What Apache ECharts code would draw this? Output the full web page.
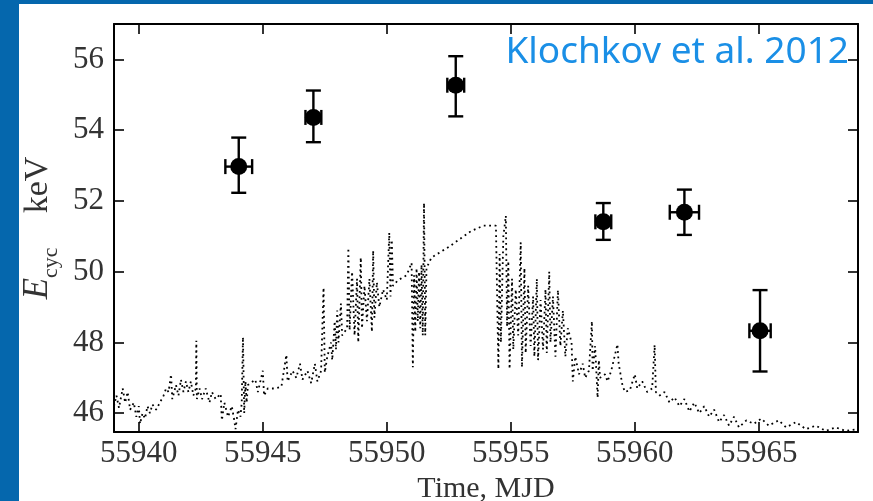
<!DOCTYPE html>
<html>
<head>
<meta charset="utf-8">
<script src="https://cdn.jsdelivr.net/npm/echarts@6/dist/echarts.min.js"></script>
<style>
  html, body { margin: 0; padding: 0; background: #ffffff; }
  #chart { width: 873px; height: 501px; }
</style>
</head>
<body>
<div id="chart"></div>
<script>
// Cyclotron line energy measurements (MJD, E_cyc, asymmetric y-errors, x half-width)
const obsMjd    = [55944.03, 55947.04, 55952.78, 55958.73, 55962.00, 55965.05];
const obsEcyc   = [52.97, 54.36, 55.27, 51.41, 51.68, 48.33];
const obsErrUp  = [0.82, 0.76, 0.82, 0.53, 0.64, 1.15];
const obsErrLo  = [0.74, 0.70, 0.88, 0.51, 0.64, 1.15];
const obsMjdErr = [0.54, 0.32, 0.34, 0.32, 0.59, 0.43];

// Scaled source flux light curve (dotted trace)
const fluxMjd = [
  55939.0, 55939.1, 55939.2, 55939.35, 55939.45, 55939.55, 55939.65, 55939.8, 55939.9, 55940.0,
  55940.05, 55940.15, 55940.25, 55940.35, 55940.45, 55940.55, 55940.7, 55940.85,
  55941.0, 55941.1, 55941.2, 55941.3, 55941.35, 55941.5, 55941.6, 55941.7, 55941.8, 55941.9,
  55942.0, 55942.1, 55942.2, 55942.3, 55942.32, 55942.34,
  55942.45, 55942.55, 55942.7, 55942.85, 55942.95, 55943.1, 55943.3, 55943.35, 55943.45, 55943.6,
  55943.75, 55943.85, 55943.9, 55944.0, 55944.1, 55944.15,
  55944.2, 55944.25, 55944.3, 55944.35, 55944.4,
  55944.7, 55944.8, 55945.0, 55945.05, 55945.2, 55945.5, 55945.75,
  55945.95, 55946.0, 55946.2, 55946.35, 55946.5, 55946.6, 55946.8, 55946.95, 55947.1, 55947.2,
  55947.35, 55947.45, 55947.5, 55947.6, 55947.75, 55947.8, 55947.9, 55947.95, 55948.0, 55948.05,
  55948.15, 55948.2,
  55948.4, 55948.45, 55948.5, 55948.6, 55948.7, 55948.8, 55948.85, 55948.95, 55949.0, 55949.1,
  55949.2, 55949.3, 55949.4, 55949.45, 55949.5, 55949.6, 55949.7, 55949.85, 55950.0, 55950.1,
  55950.15, 55950.2, 55950.25, 55950.45, 55950.8,
  55951.0, 55951.05, 55951.1, 55951.15, 55951.2, 55951.25, 55951.3, 55951.35, 55951.4, 55951.45,
  55951.5, 55951.55, 55951.6,
  55951.8, 55952.5, 55953.0, 55953.4, 55953.9, 55954.4,
  55954.5, 55954.55, 55954.6, 55954.7, 55954.8, 55954.85, 55954.9, 55954.95, 55955.05, 55955.1,
  55955.2, 55955.3, 55955.4, 55955.45, 55955.55, 55955.6, 55955.7, 55955.8, 55955.9, 55955.95,
  55956.05, 55956.1, 55956.2, 55956.3, 55956.4, 55956.45, 55956.55, 55956.6, 55956.7, 55956.8,
  55956.9, 55957.0, 55957.1, 55957.2, 55957.3, 55957.45, 55957.5, 55957.6, 55957.75, 55957.9,
  55958.0, 55958.15, 55958.27, 55958.3, 55958.4, 55958.5, 55958.55, 55958.6, 55958.8, 55958.9,
  55959.05, 55959.3, 55959.35, 55959.5, 55959.6, 55959.8, 55960.0, 55960.1, 55960.3, 55960.5,
  55960.7, 55960.8, 55960.85, 55961.0, 55961.2, 55961.4, 55961.6, 55961.8, 55962.0, 55962.2,
  55962.4, 55962.6, 55962.8, 55963.0, 55963.2, 55963.4, 55963.6, 55963.8, 55964.0, 55964.2,
  55964.5, 55964.8, 55965.1, 55965.4, 55965.8, 55966.1, 55966.5, 55966.9, 55967.3, 55967.7,
  55968.1, 55968.5, 55969.0
];
const fluxLevel = [
  46.2, 46.5, 46.15, 46.7, 46.3, 46.6, 46.1, 46.3, 45.9, 46.2,
  45.7, 46.0, 45.85, 46.2, 46.0, 46.25, 46.1, 46.3,
  46.5, 46.7, 46.6, 47.1, 46.4, 46.8, 46.5, 46.95, 46.6, 46.9,
  46.6, 46.9, 46.5, 46.7, 48.05, 46.4,
  46.7, 46.4, 46.7, 46.3, 46.6, 46.4, 46.55, 45.8, 46.3, 45.9,
  46.2, 45.8, 45.55, 46.1, 45.9, 46.3,
  48.15, 46.0, 46.9, 46.3, 46.8,
  46.95, 46.6, 47.2, 46.5, 46.7, 46.7, 46.75,
  47.65, 46.9, 47.2, 47.0, 47.4, 46.95, 47.2, 46.85, 47.4, 46.9,
  47.2, 49.55, 47.15, 47.6, 48.0, 47.5, 48.6, 47.8, 48.9, 48.0,
  49.1, 48.2,
  48.4, 50.67, 48.35, 50.0, 48.2, 49.8, 48.0, 50.4, 48.4, 49.6,
  48.6, 49.8, 48.3, 50.6, 48.7, 49.7, 49.0, 49.5, 49.2, 51.1,
  49.3, 50.9, 49.6, 49.76, 49.9,
  50.25, 47.3, 49.9, 48.3, 50.1, 48.6, 50.0, 48.4, 50.2, 48.2,
  51.94, 48.2, 50.1,
  50.4, 50.7, 50.95, 51.15, 51.3, 51.3,
  47.25, 50.5, 48.0, 51.0, 51.58, 48.45, 50.3, 47.25, 49.8, 47.8,
  49.5, 48.2, 50.83, 47.3, 50.1, 47.7, 49.6, 47.9, 49.3, 47.6,
  49.8, 47.5, 49.2, 47.8, 49.5, 47.7, 50.0, 48.0, 49.3, 47.6,
  49.48, 47.9, 48.9, 47.6, 48.4, 48.0, 46.9, 47.6, 47.1, 47.4,
  47.0, 47.2, 48.6, 47.2, 47.9, 46.44, 47.5, 47.0, 47.1, 46.9,
  47.2, 47.95, 47.4, 46.8, 46.6, 46.65, 47.1, 46.7, 46.9, 46.6,
  46.7, 47.93, 46.6, 46.5, 46.6, 46.3, 46.45, 46.2, 46.4, 46.05,
  46.3, 46.0, 46.2, 45.9, 46.1, 45.75, 45.95, 45.65, 45.9, 45.6,
  45.8, 45.7, 45.85, 45.65, 45.8, 45.6, 45.75, 45.55, 45.65, 45.5,
  45.6, 45.5, 45.55
];

// Axis tick positions
const xTicks = [55940, 55945, 55950, 55955, 55960, 55965];
const yTicks = [46, 48, 50, 52, 54, 56];

const serif = '"Liberation Serif", "DejaVu Serif", serif';

const chart = echarts.init(document.getElementById('chart'), null, { renderer: 'canvas' });

const fluxData = fluxMjd.map((t, i) => [t, fluxLevel[i]]);
const obsData = obsMjd.map((t, i) => [t, obsEcyc[i], obsErrUp[i], obsErrLo[i], obsMjdErr[i]]);

function frameAxis(extra) {
  return Object.assign({
    type: 'value',
    axisLine: { show: true, onZero: false, lineStyle: { color: '#000', width: 2 } },
    splitLine: { show: false }
  }, extra);
}
function ticks(values) {
  return { show: true, inside: true, length: 10, customValues: values, lineStyle: { color: '#000', width: 1.6 } };
}

const option = {
  animation: false,
  backgroundColor: '#ffffff',
  grid: { left: 114, right: 15, top: 24, bottom: 69, containLabel: false, outerBoundsMode: 'none' },
  xAxis: [
    frameAxis({
      min: 55939, max: 55969, position: 'bottom',
      axisTick: ticks(xTicks),
      axisLabel: { customValues: xTicks, formatter: v => String(v), fontFamily: serif, fontSize: 31, color: '#333', margin: 6 },
      name: 'Time, MJD', nameLocation: 'middle', nameGap: 36,
      nameTextStyle: { fontFamily: serif, fontSize: 30, color: '#333' }
    }),
    frameAxis({
      min: 55939, max: 55969, position: 'top',
      axisTick: ticks(xTicks),
      axisLabel: { show: false }
    })
  ],
  yAxis: [
    frameAxis({
      min: 45.47, max: 57.0, position: 'left',
      axisTick: ticks(yTicks),
      axisLabel: { customValues: yTicks, formatter: v => String(v), fontFamily: serif, fontSize: 31, color: '#333', margin: 10 },
      name: '{e|E}{s|cyc}{n|    keV}', nameLocation: 'middle', nameGap: 54, nameRotate: 90,
      nameTextStyle: {
        rich: {
          e: { fontFamily: serif, fontStyle: 'italic', fontSize: 35, color: '#333', lineHeight: 38, verticalAlign: 'bottom' },
          s: { fontFamily: serif, fontSize: 22, color: '#333', lineHeight: 38, verticalAlign: 'bottom', padding: [0, 0, -7, 0] },
          n: { fontFamily: serif, fontSize: 34, color: '#333', lineHeight: 38, verticalAlign: 'bottom' }
        }
      }
    }),
    frameAxis({
      min: 45.47, max: 57.0, position: 'right',
      axisTick: ticks(yTicks),
      axisLabel: { show: false }
    })
  ],
  series: [
    {
      name: 'flux',
      type: 'line',
      data: fluxData,
      showSymbol: false,
      symbol: 'none',
      clip: true,
      lineStyle: { color: '#000', width: 1.8, type: [1.8, 3.6] },
      z: 2
    },
    {
      name: 'Ecyc',
      type: 'custom',
      data: obsData,
      clip: false,
      z: 5,
      renderItem: function (params, api) {
        const t = api.value(0), e = api.value(1);
        const up = api.value(2), lo = api.value(3), dt = api.value(4);
        const c = api.coord([t, e]);
        const top = api.coord([t, e + up]);
        const bot = api.coord([t, e - lo]);
        const left = api.coord([t - dt, e]);
        const right = api.coord([t + dt, e]);
        const cap = 7.5;
        const st = { stroke: '#000', lineWidth: 2.4 };
        const line = (x1, y1, x2, y2) => ({ type: 'line', shape: { x1, y1, x2, y2 }, style: st });
        return {
          type: 'group',
          children: [
            line(c[0], top[1], c[0], bot[1]),
            line(c[0] - cap, top[1], c[0] + cap, top[1]),
            line(c[0] - cap, bot[1], c[0] + cap, bot[1]),
            line(left[0], c[1], right[0], c[1]),
            line(left[0], c[1] - cap, left[0], c[1] + cap),
            line(right[0], c[1] - cap, right[0], c[1] + cap),
            { type: 'circle', shape: { cx: c[0], cy: c[1], r: 8.5 }, style: { fill: '#000' } }
          ]
        };
      }
    }
  ],
  graphic: [
    { type: 'rect', left: 0, top: 0, shape: { width: 19, height: 501 }, style: { fill: '#0567ad' }, z: 100 },
    { type: 'rect', left: 0, top: 0, shape: { width: 873, height: 4 }, style: { fill: '#0567ad' }, z: 100 },
    {
      type: 'text', right: 24, top: 34, z: 100,
      style: { text: 'Klochkov et al. 2012', fill: '#1a8fe6', font: '37px "Noto Sans", sans-serif' }
    }
  ]
};

chart.setOption(option);
</script>
</body>
</html>
